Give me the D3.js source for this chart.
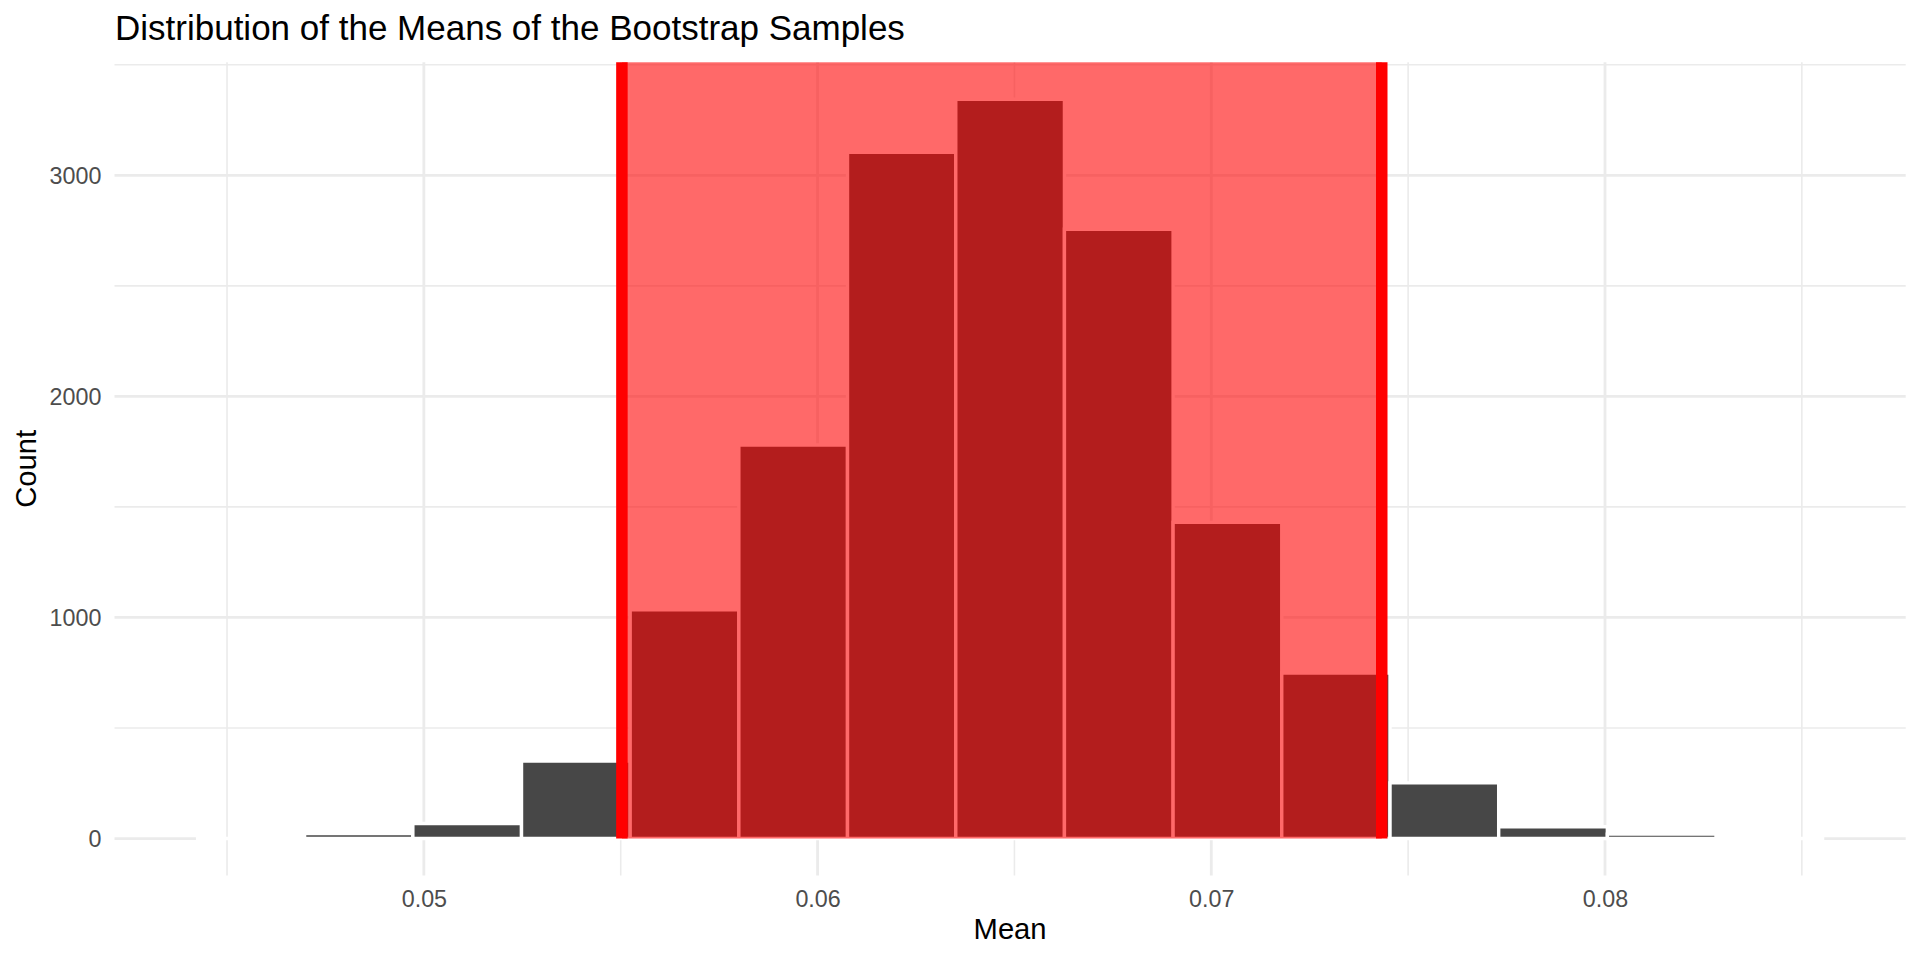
<!DOCTYPE html>
<html>
<head>
<meta charset="utf-8">
<script src="https://cdn.jsdelivr.net/npm/d3@7"></script>
<style>
  html, body { margin: 0; padding: 0; background: #ffffff; }
  svg { display: block; }
  text { font-family: "Liberation Sans", Arial, Helvetica, sans-serif; }
</style>
</head>
<body>
<svg id="chart" width="1920" height="960"></svg>
<script>
// ---- data ----
const binEdges = [0.04421, 0.04697, 0.04972, 0.05248, 0.05524, 0.05800, 0.06076, 0.06351,
                  0.06627, 0.06903, 0.07179, 0.07454, 0.07730, 0.08006, 0.08282, 0.08557];
const counts   = [0, 22, 68, 350, 1035, 1780, 3104, 3344, 2756, 1430, 749, 252, 53, 20, 0];
const ciBounds = [0.05503, 0.07433];
const xMajorTicks = [0.05, 0.06, 0.07, 0.08];
const xMinorTicks = [0.045, 0.055, 0.065, 0.075, 0.085];
const yMajorTicks = [0, 1000, 2000, 3000];
const yMinorTicks = [500, 1500, 2500, 3500];
const titleText = "Distribution of the Means of the Bootstrap Samples";
const xTitle = "Mean";
const yTitle = "Count";

// ---- layout ----
const panel = { left: 114.5, right: 1905.7, top: 62.3, bottom: 875.5 };

const xMin = d3.min(binEdges), xMax = d3.max(binEdges);
const xPad = (xMax - xMin) * 0.05;
const yMax = d3.max(counts);
const yPad = yMax * 0.05;

const x = d3.scaleLinear().domain([xMin - xPad, xMax + xPad]).range([panel.left, panel.right]);
const y = d3.scaleLinear().domain([-yPad, yMax + yPad]).range([panel.bottom, panel.top]);

const svg = d3.select("#chart");
const bins = counts.map((c, i) => ({ x0: binEdges[i], x1: binEdges[i + 1], count: c }));

// ---- grid ----
const grid = svg.append("g");
grid.selectAll(".yminor").data(yMinorTicks).join("line")
  .attr("x1", panel.left).attr("x2", panel.right)
  .attr("y1", d => y(d)).attr("y2", d => y(d))
  .attr("stroke", "#EBEBEB").attr("stroke-width", 1.6);
grid.selectAll(".xminor").data(xMinorTicks).join("line")
  .attr("y1", panel.top).attr("y2", panel.bottom)
  .attr("x1", d => x(d)).attr("x2", d => x(d))
  .attr("stroke", "#EBEBEB").attr("stroke-width", 1.6);
grid.selectAll(".ymajor").data(yMajorTicks).join("line")
  .attr("x1", panel.left).attr("x2", panel.right)
  .attr("y1", d => y(d)).attr("y2", d => y(d))
  .attr("stroke", "#EBEBEB").attr("stroke-width", 2.8);
grid.selectAll(".xmajor").data(xMajorTicks).join("line")
  .attr("y1", panel.top).attr("y2", panel.bottom)
  .attr("x1", d => x(d)).attr("x2", d => x(d))
  .attr("stroke", "#EBEBEB").attr("stroke-width", 2.8);

// ---- bars (paths so zero-height bins still show their outline) ----
svg.append("g").selectAll("path").data(bins).join("path")
  .attr("d", d => {
    const x0 = x(d.x0), x1 = x(d.x1), y0 = y(0), y1 = y(d.count);
    return `M${x0},${y0}L${x0},${y1}L${x1},${y1}L${x1},${y0}Z`;
  })
  .attr("fill", "#474747")
  .attr("stroke", "#ffffff")
  .attr("stroke-width", 3.4)
  .attr("stroke-linejoin", "miter");

// ---- confidence interval band ----
svg.append("rect")
  .attr("x", x(ciBounds[0]))
  .attr("y", panel.top)
  .attr("width", x(ciBounds[1]) - x(ciBounds[0]))
  .attr("height", y(0) - panel.top)
  .attr("fill", "#FF0000")
  .attr("fill-opacity", 0.59);

svg.append("g").selectAll("line").data(ciBounds).join("line")
  .attr("x1", d => x(d)).attr("x2", d => x(d))
  .attr("y1", panel.top).attr("y2", y(0))
  .attr("stroke", "#FF0000")
  .attr("stroke-width", 11.5);

// ---- axes (labels only, as in theme_minimal) ----
const xAxis = svg.append("g")
  .attr("transform", `translate(0,${panel.bottom + 7.3})`)
  .call(d3.axisBottom(x).tickValues(xMajorTicks).tickSize(0).tickPadding(0)
        .tickFormat(d3.format(".2f")));
xAxis.select(".domain").remove();
xAxis.selectAll("text")
  .attr("y", 0).attr("dy", null)
  .attr("transform", "translate(0,24.5)")
  .attr("fill", "#4D4D4D")
  .style("font-size", "23.3px")
  .style("font-family", "'Liberation Sans', Arial, Helvetica, sans-serif");

const yAxis = svg.append("g")
  .attr("transform", `translate(${panel.left - 7.3},0)`)
  .call(d3.axisLeft(y).tickValues(yMajorTicks).tickSize(0).tickPadding(5.8)
        .tickFormat(d3.format("d")));
yAxis.select(".domain").remove();
yAxis.selectAll("text")
  .attr("fill", "#4D4D4D")
  .attr("dy", "0.36em")
  .style("font-size", "23.3px")
  .style("font-family", "'Liberation Sans', Arial, Helvetica, sans-serif");

// ---- titles ----
svg.append("text")
  .attr("x", 115).attr("y", 40)
  .attr("fill", "#000000")
  .style("font-size", "35px")
  .text(titleText);

svg.append("text")
  .attr("x", (panel.left + panel.right) / 2).attr("y", 939)
  .attr("text-anchor", "middle")
  .attr("fill", "#000000")
  .style("font-size", "29.2px")
  .text(xTitle);

svg.append("text")
  .attr("transform", `translate(36,${(panel.top + panel.bottom) / 2}) rotate(-90)`)
  .attr("text-anchor", "middle")
  .attr("fill", "#000000")
  .style("font-size", "29.2px")
  .text(yTitle);
</script>
</body>
</html>
